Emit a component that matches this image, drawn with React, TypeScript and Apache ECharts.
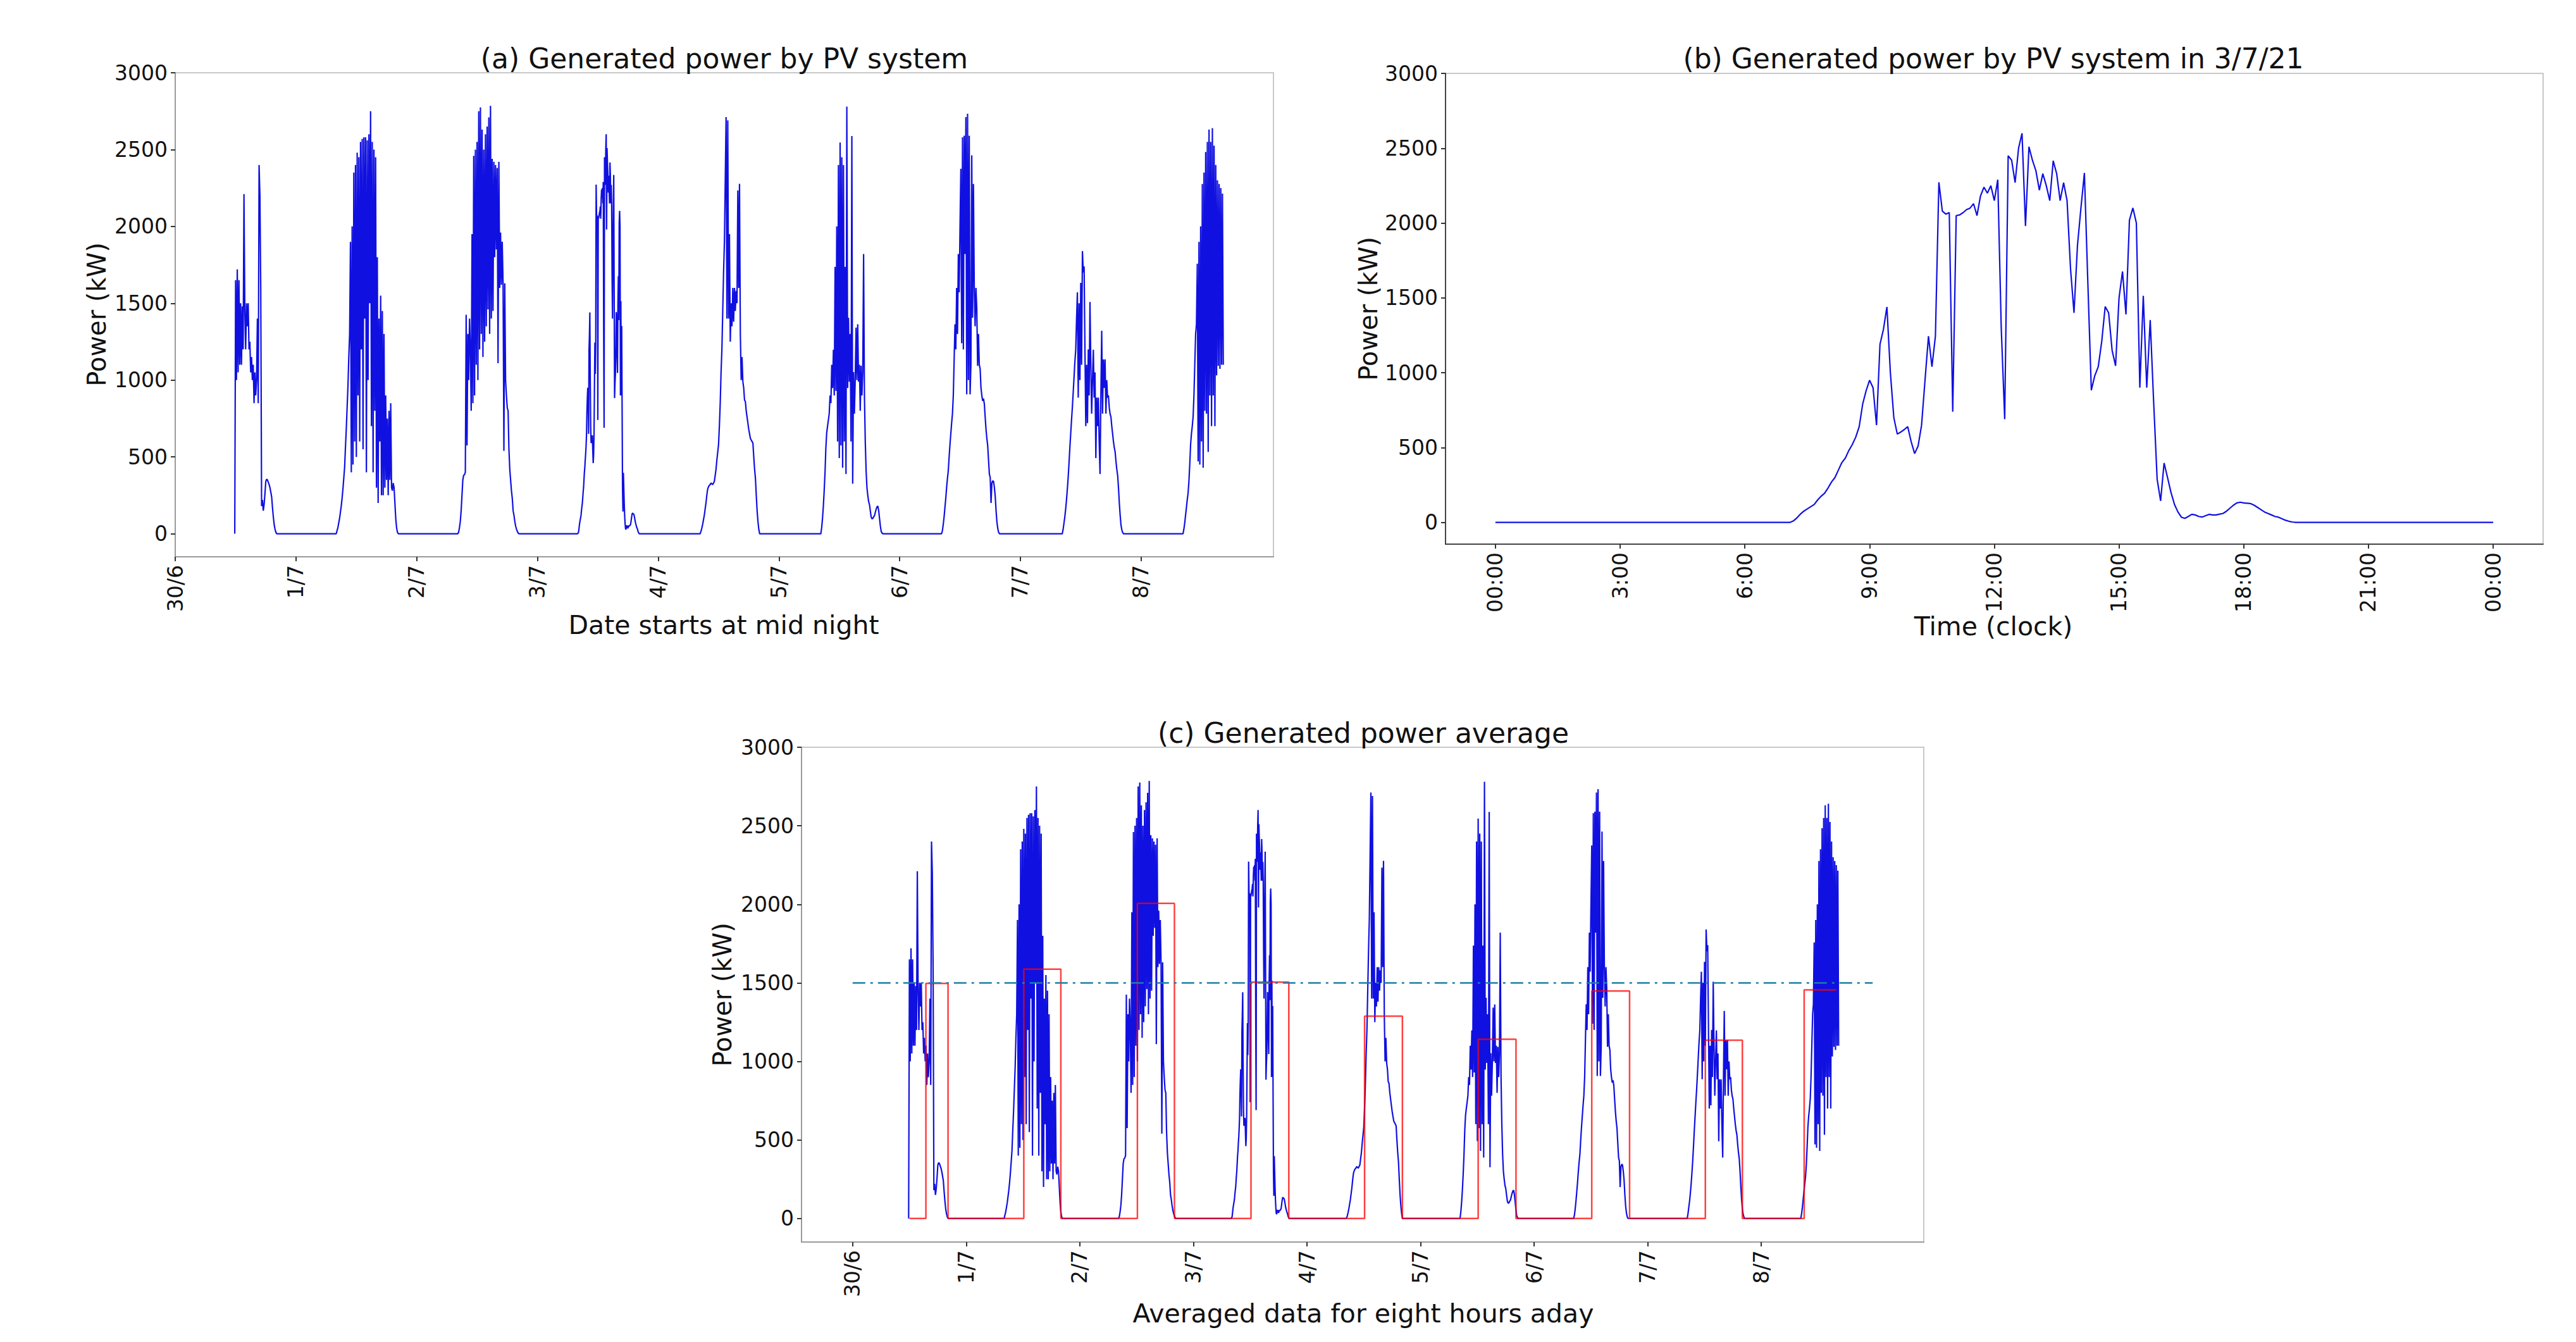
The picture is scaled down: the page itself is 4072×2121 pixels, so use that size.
import React, { useEffect, useRef } from 'react';
import * as echarts from 'echarts';

const FONT = '"DejaVu Sans", sans-serif';
const BLUE = '#1010e0';

// tick labels
const dayTickValues = [0, 1, 2, 3, 4, 5, 6, 7, 8];
const dayTickLabels = ['30/6', '1/7', '2/7', '3/7', '4/7', '5/7', '6/7', '7/7', '8/7'];
const clockTickValues = [0, 3, 6, 9, 12, 15, 18, 21, 24];
const clockTickLabels = ['00:00', '3:00', '6:00', '9:00', '12:00', '15:00', '18:00', '21:00', '00:00'];
const powerTicks = [0, 500, 1000, 1500, 2000, 2500, 3000];

// (b) 3/7/21, 5-minute readings from 07:00 (kW)
const clockBStartMin = 420;
const clockBStepMin = 5;
const clockBPower = [
  0, 0, 10, 30, 55, 75, 90, 105, 120, 150,
  175, 195, 230, 270, 300, 350, 400, 430, 480, 520,
  570, 640, 790, 880, 950, 900, 650, 1190, 1290, 1440,
  1000, 700, 590, 604, 620, 640, 540, 460, 510, 649,
  950, 1244, 1040, 1244, 2272, 2080, 2060, 2070, 740, 2050,
  2055, 2070, 2090, 2100, 2130, 2050, 2180, 2240, 2200, 2250,
  2150, 2290, 1300, 690, 2450, 2420, 2270, 2500, 2600, 1980,
  2510, 2420, 2350, 2220, 2330, 2250, 2150, 2416, 2330, 2150,
  2270, 2150, 1695, 1400, 1850, 2100, 2335, 1600, 883, 980,
  1040, 1208, 1442, 1400, 1150, 1046, 1500, 1676, 1390, 2019,
  2101, 2000, 900, 1514, 900, 1352, 800, 288, 144, 397,
  300, 200, 120, 70, 35, 27, 40, 54, 50, 40,
  36, 45, 54, 50, 50, 55, 60, 75, 95, 115,
  130, 135, 130, 128, 126, 115, 100, 85, 70, 60,
  50, 40, 35, 25, 15, 8, 3, 0,
];

// (a)/(c) daily readings, 10-minute steps (day 3 reuses (b); its clock runs one hour ahead there)
const day0Power = [
  0, 1650, 1000, 1720, 1050, 1650, 1100, 1500, 1100, 1480, 1200, 2210, 1450, 1200, 1500, 1350, 1500,
  1200, 1250, 1050, 1150, 1000, 1100, 850, 1050, 900, 1000, 1400, 850, 2400, 2200, 1600, 180, 220,
  150, 190, 260, 340, 355, 350, 335, 320, 300, 270, 240, 170, 110, 60, 30, 10, 0,
];
const day1Power = [
  0, 20, 40, 70, 100, 140, 180, 230, 290, 360, 430, 560, 680, 820, 960, 1150, 1300,
  1900, 400, 2000, 450, 2350, 600, 2400, 500, 2480, 900, 2450, 600, 2550, 1200, 2570, 550, 2580,
  1400, 2580, 400, 2560, 1000, 2600, 1500, 2750, 700, 2550, 400, 2500, 800, 2450, 300, 1800, 200,
  1400, 600, 1550, 250, 1450, 250, 1300, 300, 900, 350, 750, 250, 800, 350, 850, 300,
  280, 330, 300, 200, 100, 40, 10, 0,
];
const day2Power = [
  0, 10, 40, 80, 150, 250, 350, 380, 385, 400,
  1425, 575, 1300, 1000, 1400, 1200, 800, 1950, 850, 2460,
  900, 2500, 1100, 2550, 1000, 2750, 1200, 2775, 1300, 2630,
  1150, 2500, 1250, 2600, 1350, 2650, 1460, 2710, 1300, 2785,
  1400, 2440, 1450, 2420, 1800, 2400, 1850, 2380, 1110, 2420,
  1600, 1960, 1620, 1900, 1630, 540, 1630, 1000, 900, 820,
  800, 550, 420, 350, 280, 230, 150, 120, 80, 50,
  30, 15, 5, 0,
];
const day4Power = [
  0, 15, 35, 60, 90, 120, 160, 200, 250, 290,
  305, 315, 320, 330, 325, 320, 330, 340, 380, 420,
  480, 530, 580, 700, 850, 1050, 1200, 1450, 1700, 1900,
  2300, 2712, 1400, 2690, 1400, 1950, 1250, 1500, 1350, 1600,
  1380, 1600, 1450, 1580, 1500, 2234, 1600, 2277, 1300, 1000,
  1150, 990, 950, 870, 860, 800, 760, 720, 680, 650,
  620, 610, 600, 590, 500, 420, 360, 250, 150, 80,
  30, 0,
];
const day5Power = [
  0, 40, 100, 180, 280, 400, 560, 657, 700, 740,
  782, 900, 850, 1100, 948, 1197, 900, 1737, 930, 2000,
  600, 2400, 492, 2546, 575, 2450, 430, 2400, 600, 1737,
  388, 2780, 948, 1405, 990, 1300, 600, 2588, 326, 1052,
  782, 1000, 1342, 1000, 1363, 990, 1100, 800, 1093, 900,
  1050, 1820, 900, 600, 409, 300, 250, 210, 190, 150,
  110, 97, 100, 110, 118, 140, 160, 175, 180, 150,
  100, 50, 15, 5, 0,
];
const day6Power = [
  0, 20, 60, 110, 170, 230, 300, 360, 409, 500,
  580, 650, 720, 782, 900, 1135, 1363, 1200, 1600, 1300,
  1820, 1571, 2000, 2375, 1240, 2580, 1200, 2590, 1820, 2712,
  907, 2733, 1000, 2590, 907, 1100, 2463, 1405, 2276, 1600,
  1350, 1600, 1467, 1093, 1300, 1100, 1073, 950, 900, 865,
  880, 845, 760, 680, 620, 575, 480, 388, 367, 200,
  330, 345, 340, 300, 243, 150, 77, 35, 10, 0,
];
const day7Power = [
  0, 30, 70, 110, 160, 220, 290, 367, 460, 560,
  650, 740, 824, 920, 1020, 1120, 1197, 1400, 1571, 886,
  1500, 1000, 1633, 1100, 1840, 1700, 1740, 1200, 700, 1100,
  720, 1200, 900, 1508, 1100, 782, 1000, 1197, 886, 1050,
  492, 886, 700, 886, 600, 388, 900, 1321, 782, 1135,
  950, 1135, 782, 1000, 886, 900, 820, 780, 760, 700,
  650, 600, 560, 533, 470, 420, 380, 300, 200, 120,
  56, 25, 8, 0,
];
const day8Power = [
  0, 30, 70, 120, 170, 220, 264, 340, 450, 580,
  650, 700, 760, 900, 1100, 1300, 1363, 1757, 471, 1900,
  450, 2000, 600, 2276, 430, 2350, 800, 2484, 782, 2550,
  533, 2630, 900, 2550, 700, 2640, 900, 2525, 700, 2400,
  1031, 2300, 1093, 2276, 1073, 2250, 1100, 2214, 1100,
];
const dayPower = [day0Power, day1Power, day2Power, clockBPower, day4Power, day5Power, day6Power, day7Power, day8Power];
const dayStartMin = [710, 480, 490, clockBStartMin + 60, 500, 500, 500, 500, 500];
const dayStepMin = [10, 10, 10, clockBStepMin, 10, 10, 10, 10, 10];

// (c) eight-hour averages (edges in days) and the 1500 kW reference
const avgEdges = [0.5, 0.645, 0.84, 1.507, 1.833, 2.507, 2.833, 3.507, 3.84, 4.507, 4.84, 5.507, 5.84, 6.507, 6.84, 7.507, 7.833, 8.377, 8.66];
const avgLevels = [0, 1497, 0, 1587, 0, 2006, 0, 1505, 0, 1288, 0, 1141, 0, 1448, 0, 1135, 0, 1455];
const refLineDays = [0, 8.98];
const refLineKW = 1500;

function pvPoints() {
  const pts: number[][] = [];
  dayPower.forEach((vals, d) => {
    vals.forEach((v, i) => pts.push([d + (dayStartMin[d] + i * dayStepMin[d]) / 1440, v]));
  });
  return pts;
}

function clockPoints() {
  const pts: number[][] = [[0, 0]];
  clockBPower.forEach((v, i) => pts.push([(clockBStartMin + i * clockBStepMin) / 60, v]));
  pts.push([24, 0]);
  return pts;
}

function stepPoints() {
  const pts: number[][] = [];
  avgLevels.forEach((v, i) => {
    pts.push([avgEdges[i], v]);
    pts.push([avgEdges[i + 1], v]);
  });
  return pts;
}

const tickText = { color: '#111', fontFamily: FONT, fontSize: 33 };

function xAxis(gridIndex: number, min: number, max: number, ticks: number[], labels: string[], lineColor: string) {
  return {
    type: 'value', gridIndex, min, max,
    axisLine: { show: true, onZero: false, lineStyle: { color: lineColor, width: 2 } },
    axisTick: { show: true, customValues: ticks, length: 7, lineStyle: { color: '#333', width: 2 } },
    axisLabel: {
      customValues: ticks, rotate: 90, margin: 13, ...tickText,
      formatter: (v: number) => {
        const k = ticks.findIndex((t) => Math.abs(t - v) < 1e-6);
        return k >= 0 ? labels[k] : '';
      },
    },
    splitLine: { show: false },
  };
}

function yAxis(gridIndex: number, min: number, lineColor: string) {
  return {
    type: 'value', gridIndex, min, max: 3000,
    axisLine: { show: true, onZero: false, lineStyle: { color: lineColor, width: 2 } },
    axisTick: { show: true, customValues: powerTicks, length: 7, lineStyle: { color: '#333', width: 2 } },
    axisLabel: { customValues: powerTicks, margin: 12, ...tickText, formatter: (v: number) => String(Math.round(v)) },
    splitLine: { show: false },
  };
}

function label(text: string, x: number, y: number, size: number, rotate = 0) {
  return {
    type: 'text', x, y, rotation: rotate,
    style: {
      text, fill: '#111', fontFamily: FONT, fontSize: size,
      align: 'center', verticalAlign: 'middle', textAlign: 'center', textVerticalAlign: 'middle',
    },
  };
}

export default function App() {
  const ref = useRef<HTMLDivElement | null>(null);

  useEffect(() => {
    document.body.style.margin = '0';
    document.body.style.overflow = 'hidden';
    if (!ref.current) return;
    const chart = echarts.init(ref.current, undefined, { renderer: 'svg' });
    const pv = pvPoints();
    const line = (xi: number, data: number[][], color: string, width: number, extra: any = {}) => ({
      type: 'line', xAxisIndex: xi, yAxisIndex: xi, data, showSymbol: false, symbol: 'none',
      lineStyle: { color, width, ...extra }, itemStyle: { color }, z: 2,
    });
    chart.setOption({
      animation: false,
      backgroundColor: '#ffffff',
      grid: [
        { left: 277, top: 115, width: 1736, height: 765, show: true, borderColor: '#c8c8c8', borderWidth: 2 },
        { left: 2285, top: 116, width: 1735, height: 744, show: true, borderColor: '#c8c8c8', borderWidth: 2 },
        { left: 1267, top: 1181, width: 1774, height: 782, show: true, borderColor: '#c8c8c8', borderWidth: 2 },
      ],
      xAxis: [
        xAxis(0, 0, 9.096, dayTickValues, dayTickLabels, '#9a9a9a'),
        xAxis(1, -1.2, 25.2, clockTickValues, clockTickLabels, '#444444'),
        xAxis(2, -0.45, 9.43, dayTickValues, dayTickLabels, '#9a9a9a'),
      ],
      yAxis: [yAxis(0, -150, '#9a9a9a'), yAxis(1, -145, '#444444'), yAxis(2, -150, '#9a9a9a')],
      series: [
        line(0, pv, BLUE, 2.2),
        line(1, clockPoints(), BLUE, 2.2),
        line(2, pv, BLUE, 2.2),
        { ...line(2, stepPoints(), 'rgba(255,0,0,0.75)', 2.5), z: 3 },
        { ...line(2, refLineDays.map((d) => [d, refLineKW]), '#1b7fa6', 2.5, { type: [20, 8, 4, 8] }), z: 4 },
      ],
      graphic: {
        elements: [
          label('(a) Generated power by PV system', 1145, 92, 44),
          label('(b) Generated power by PV system in 3/7/21', 3151, 92, 44),
          label('(c) Generated power average', 2155, 1158, 44),
          label('Date starts at mid night', 1144, 988, 41),
          label('Time (clock)', 3151, 990, 41),
          label('Averaged data for eight hours aday', 2155, 2076, 41),
          label('Power (kW)', 153, 497, 40, Math.PI / 2),
          label('Power (kW)', 2163, 488, 40, Math.PI / 2),
          label('Power (kW)', 1142, 1572, 40, Math.PI / 2),
        ],
      },
    });
    return () => { chart.dispose(); };
  }, []);

  return <div ref={ref} style={{ width: 4072, height: 2121 }} />;
}
